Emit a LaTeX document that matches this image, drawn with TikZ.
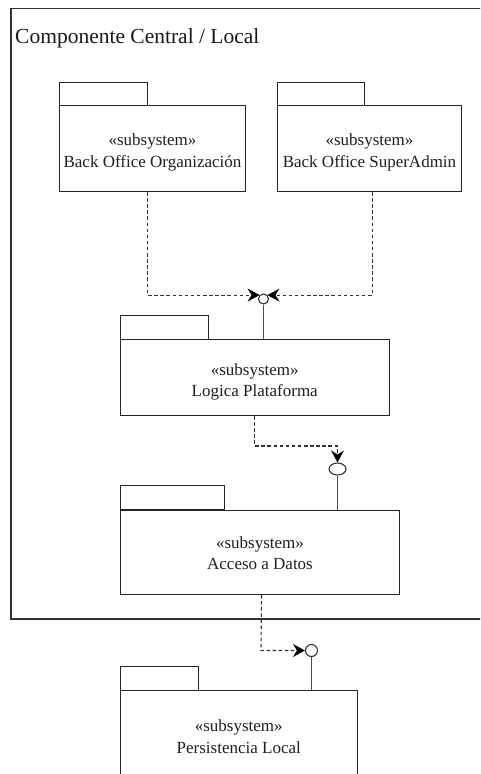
\documentclass[tikz,border=0pt]{standalone}
\usepackage{fontspec}
\setmainfont{Liberation Serif}
\usetikzlibrary{arrows.meta,shapes.geometric}

\tikzset{
  pkgbody/.style={draw=black!85, line width=1pt, rectangle, inner sep=0pt,
    anchor=north west},
  pkglabel/.style={align=center, inner sep=0pt, font=\fontsize{17}{21.5}\selectfont,
    text=black!88},
  pkgtab/.style={draw=black!85, line width=1pt},
  frameline/.style={draw=black!80, line width=1.2pt},
  dep/.style={draw=black!80, line width=1.1pt, dash pattern=on 3.5pt off 2.6pt,
    -{Stealth[length=12pt, width=13pt, inset=4pt, fill=black, color=black]}},
  stem/.style={draw=black!70, line width=1.1pt},
  ball/.style={draw=black!80, line width=1.1pt, fill=white, circle, inner sep=0pt,
    minimum size=#1},
  ballwide/.style={draw=black!80, line width=1.1pt, fill=white, ellipse, inner sep=0pt,
    minimum width=17pt, minimum height=12pt}
}

\begin{document}
\begin{tikzpicture}[x=1pt, y=-1pt]
  \useasboundingbox (0,0) rectangle (480,774);
  \clip (0,0) rectangle (480,774);

  % enclosing frame with its title
  \draw[frameline] (11,8.5) rectangle (495,619);
  \node[anchor=base west, inner sep=0pt, font=\fontsize{21.5}{24}\selectfont, text=black!90]
    (title) at (15,43) {Componente Central / Local};

  % subsystem packages (tab + body + label)
  \draw[pkgtab] (59,82) rectangle (147,105);
  \node[pkgbody, minimum width=186pt, minimum height=86pt] (boOrg) at (59,105) {};
  \node[pkglabel] (boOrgText) at ([yshift=-4pt]boOrg.center)
    {«subsystem»\\Back Office Organización};

  \draw[pkgtab] (277,82) rectangle (364,105);
  \node[pkgbody, minimum width=184pt, minimum height=86pt] (boSup) at (277,105) {};
  \node[pkglabel] (boSupText) at ([yshift=-4pt]boSup.center)
    {«subsystem»\\Back Office SuperAdmin};

  \draw[pkgtab] (120,315.5) rectangle (208,339);
  \node[pkgbody, minimum width=268.5pt, minimum height=76pt] (logica) at (120,339) {};
  \node[pkglabel] (logicaText) at ([yshift=-4.5pt]logica.center)
    {«subsystem»\\Logica Plataforma};

  \draw[pkgtab] (120,485.5) rectangle (224,509.5);
  \node[pkgbody, minimum width=279pt, minimum height=84.5pt] (acceso) at (120,509.5) {};
  \node[pkglabel] (accesoText) at ([yshift=-1pt]acceso.center)
    {«subsystem»\\Acceso a Datos};

  \draw[pkgtab] (120,666.5) rectangle (198,690);
  \node[pkgbody, minimum width=236.5pt, minimum height=88pt] (persist) at (120,690) {};
  \node[pkglabel] (persistText) at ([yshift=-2pt]persist.center)
    {«subsystem»\\Persistencia Local};

  % provided interfaces (lollipops)
  \node[ball=10pt] (lolA) at (263.5,299) {};
  \node[ballwide] (lolB) at (337.5,469) {};
  \node[ball=12pt] (lolC) at (311.5,650.5) {};

  \draw[stem] (lolA.south) -- (lolA.south |- logica.north);
  \draw[stem] (lolB.south) -- (lolB.south |- acceso.north);
  \draw[stem] (lolC.south) -- (lolC.south |- persist.north);

  % usage dependencies
  \coordinate (bendB) at (337.5,446);
  \coordinate (bendC) at (261,650.5);
  \draw[dep] ([xshift=-5pt]boOrg.south) |- (lolA.135);
  \draw[dep] ([xshift=2.7pt]boSup.south) |- (lolA.45);
  \draw[dep] (logica.south) |- (bendB) -- (lolB.north);
  \draw[dep] ([xshift=1.5pt]acceso.south) -- (bendC) -- (lolC.west);
\end{tikzpicture}
\end{document}
